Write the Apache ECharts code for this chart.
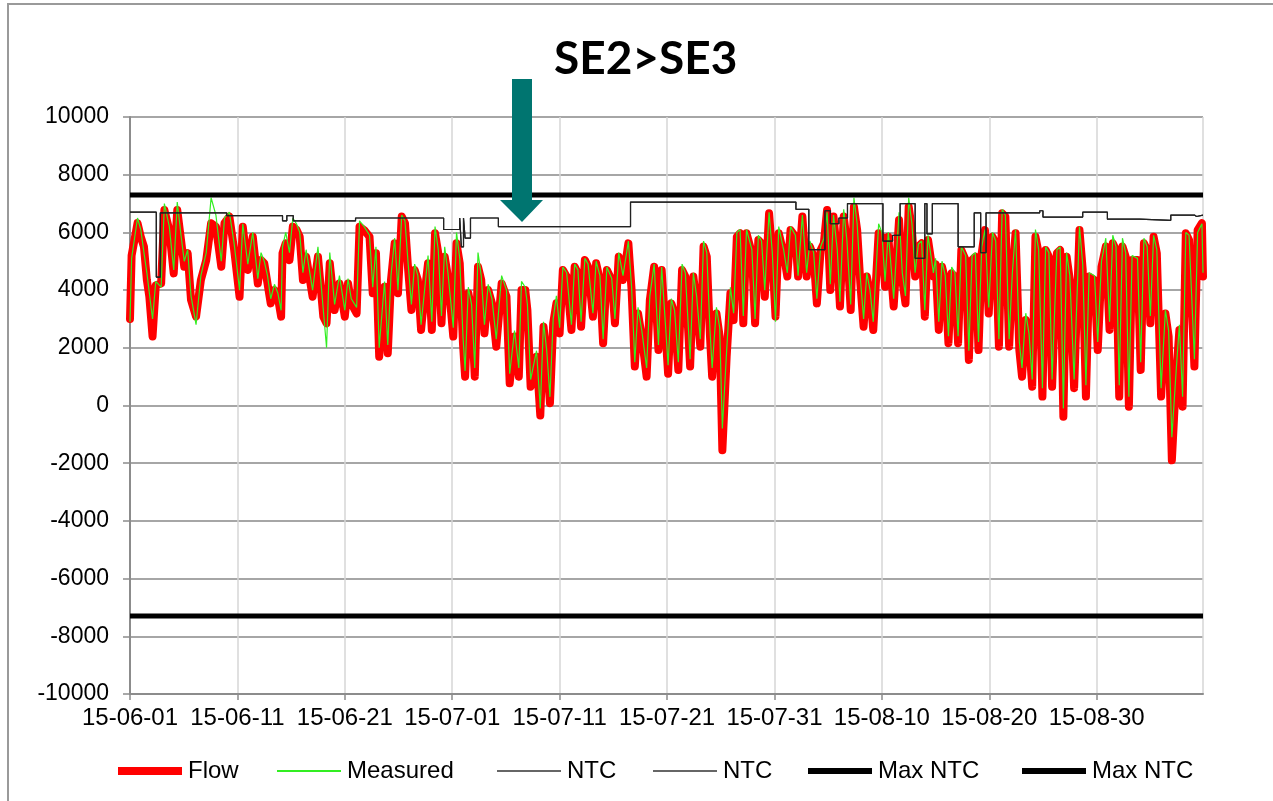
<!DOCTYPE html>
<html>
<head>
<meta charset="utf-8">
<script src="https://cdn.jsdelivr.net/npm/echarts@6/dist/echarts.min.js"></script>
<style>
html,body{margin:0;padding:0;background:#fff;}
#main{width:1273px;height:801px;}
</style>
</head>
<body>
<div id="main"></div>
<script>
// x values are days counted from 2015-06-01
var startDate = Date.UTC(2015, 5, 1);
var xMax = 99.9;

var flowDays = [
  0.0, 0.15, 0.7, 1.0, 1.3, 1.57, 1.8, 2.1, 2.4, 2.9,
  3.2, 3.66, 4.07, 4.4, 4.75, 5.05, 5.37, 5.68, 6.15, 6.6,
  7.1, 7.55, 8.0, 8.5, 8.8, 9.25, 9.7, 10.2, 10.5, 10.97,
  11.43, 11.9, 12.2, 12.5, 12.8, 13.1, 13.45, 13.76, 14.07, 14.2,
  14.5, 14.85, 15.16, 15.5, 15.8, 16.1, 16.4, 17.0, 17.5, 18.0,
  18.3, 18.6, 19.05, 19.5, 20.0, 20.3, 20.6, 21.1, 21.37, 21.8,
  22.3, 22.6, 22.9, 23.2, 23.7, 24.0, 24.3, 24.64, 24.95, 25.3,
  25.6, 25.9, 26.2, 26.5, 26.8, 27.1, 27.4, 27.75, 28.1, 28.4,
  28.7, 29.0, 29.3, 29.6, 30.1, 30.4, 30.7, 31.0, 31.2, 31.5,
  31.8, 32.1, 32.4, 32.7, 33.0, 33.35, 33.7, 34.1, 34.6, 35.05,
  35.35, 35.8, 36.2, 36.45, 36.8, 37.0, 37.3, 37.85, 38.2, 38.5,
  38.8, 39.1, 39.4, 39.7, 40.0, 40.3, 40.65, 41.1, 41.4, 41.7,
  42.0, 42.35, 42.65, 43.1, 43.4, 43.75, 44.05, 44.4, 44.85, 45.15,
  45.5, 45.9, 46.4, 46.7, 47.0, 47.3, 47.65, 48.1, 48.4, 48.8,
  49.2, 49.5, 50.1, 50.4, 50.7, 51.05, 51.4, 51.7, 52.15, 52.45,
  52.75, 53.1, 53.4, 53.7, 54.0, 54.2, 54.6, 54.9, 55.15, 55.55,
  55.9, 56.2, 56.5, 56.8, 57.1, 57.4, 57.9, 58.2, 58.5, 58.8,
  59.1, 59.5, 59.8, 60.1, 60.4, 60.85, 61.2, 61.5, 61.95, 62.2,
  62.6, 63.0, 63.3, 63.65, 63.95, 64.3, 64.6, 64.9, 65.2, 65.5,
  65.85, 66.1, 66.45, 66.75, 67.1, 67.4, 67.7, 68.0, 68.3, 68.6,
  68.9, 69.2, 69.7, 70.0, 70.3, 70.6, 71.1, 71.6, 71.9, 72.2,
  72.5, 72.8, 73.1, 73.4, 73.7, 74.0, 74.3, 74.8, 75.0, 75.3,
  75.6, 75.9, 76.2, 76.5, 76.8, 77.1, 77.4, 77.8, 78.1, 78.4,
  78.7, 79.0, 79.3, 79.6, 79.95, 80.3, 80.6, 80.9, 81.2, 81.5,
  81.85, 82.15, 82.45, 82.8, 83.05, 83.4, 83.7, 84.0, 84.3, 84.6,
  84.95, 85.25, 85.55, 85.85, 86.3, 86.6, 86.9, 87.2, 87.5, 87.9,
  88.4, 88.7, 89.0, 89.3, 89.8, 90.1, 90.45, 90.85, 91.2, 91.5,
  91.8, 92.1, 92.4, 92.7, 93.0, 93.3, 93.8, 94.1, 94.4, 94.7,
  95.0, 95.3, 95.6, 96.0, 96.4, 96.7, 97.0, 97.4, 97.7, 98.0,
  98.3, 98.6, 99.1, 99.4, 99.8, 99.9
];

var flowVals = [
  3000, 5200, 6320, 5850, 5500, 4350, 3770, 2390, 4170, 4230,
  6780, 6080, 4580, 6780, 5740, 4810, 5280, 3660, 3080, 4350,
  5040, 6320, 6200, 4810, 6320, 6550, 5390, 3770, 6200, 4700,
  5850, 4230, 5040, 4930, 4230, 3540, 4000, 3770, 3080, 5280,
  5620, 5040, 6200, 6090, 5850, 4350, 5160, 3770, 5160, 3080,
  2850, 4930, 3310, 4230, 3080, 4230, 3540, 3190, 6200, 6080,
  5850, 3890, 5280, 1690, 4120, 1810, 4350, 5620, 3890, 6550,
  6320, 4700, 3310, 4700, 4350, 2620, 3770, 4930, 2620, 5970,
  5280, 2850, 5160, 4470, 2390, 5620, 4930, 2160, 1000, 3890,
  3310, 1000, 4810, 4350, 2500, 4000, 3540, 2040, 4230, 3770,
  770, 2390, 1000, 4000, 4000, 3300, 650, 1690, -350, 2730,
  1690, 80, 2850, 3540, 2500, 4700, 4470, 2620, 4810, 4580,
  2730, 5040, 4810, 3080, 4930, 4350, 2160, 4700, 4350, 2850,
  5160, 4350, 5620, 4000, 1350, 3190, 2390, 1000, 3660, 4810,
  1920, 4700, 1100, 3540, 3190, 1230, 4700, 4470, 1350, 4470,
  3540, 2040, 5510, 5160, 2390, 1000, 3190, 2390, -1550, 1690,
  3890, 2960, 5850, 5970, 2850, 5970, 5280, 2850, 5740, 5620,
  3770, 6660, 5160, 3080, 5970, 5280, 4470, 6080, 5850, 4470,
  6550, 4470, 5510, 5160, 3540, 5390, 5620, 6780, 4000, 6550,
  5160, 3430, 6550, 5620, 3310, 6890, 6080, 4230, 2730, 4470,
  3890, 2620, 5970, 5850, 4120, 5850, 3430, 6430, 4350, 3540,
  6890, 6080, 4470, 5510, 5620, 3080, 5740, 4470, 4900, 2620,
  4810, 4350, 2160, 4580, 4470, 2160, 5390, 5040, 1580, 5040,
  5160, 1920, 5280, 6080, 3190, 5850, 5620, 2040, 6660, 6550,
  2040, 4470, 5970, 1920, 1000, 2960, 2270, 650, 5850, 5280,
  310, 5390, 5160, 650, 5280, 5390, -390, 5160, 4350, 600,
  6080, 4700, 310, 4470, 4350, 1920, 4810, 5510, 2620, 5620,
  5390, 310, 5510, 5160, -40, 5040, 5040, 1230, 5620, 5390,
  2850, 5850, 5280, 310, 3190, 2390, -1900, 1000, 2620, -40,
  5970, 5740, 1350, 6080, 6320, 4470
];

var measuredVals = [
  2900, 5100, 6500, 6100, 5300, 4600, 3900, 3000, 4300, 4100,
  7000, 6200, 4700, 7050, 5900, 5000, 5400, 3800, 2800, 4500,
  5300, 7200, 6600, 5000, 6500, 6700, 5600, 4000, 6300, 4900,
  6000, 4400, 5300, 5000, 4500, 3700, 4200, 3900, 3300, 5500,
  6000, 5300, 6500, 6300, 6000, 4600, 5400, 4000, 5500, 3300,
  2000, 5300, 3500, 4500, 3300, 4400, 3700, 3400, 6400, 6200,
  5900, 4100, 5500, 2000, 4300, 2100, 4500, 5800, 4000, 6600,
  6400, 4900, 3500, 4900, 4500, 2800, 3900, 5200, 2900, 6200,
  5400, 3100, 5500, 4600, 2700, 6000, 5100, 2400, 1200, 4100,
  3500, 1300, 5300, 4500, 2800, 4200, 3700, 2300, 4500, 4000,
  1100, 2600, 1300, 4300, 4100, 3500, 900, 1900, -100, 2900,
  1900, 300, 3000, 3800, 2700, 4800, 4600, 2800, 4900, 4700,
  2900, 5100, 4900, 3200, 5000, 4500, 2300, 4800, 4400, 3000,
  5300, 4500, 5700, 4100, 1500, 3400, 2600, 1300, 3800, 4900,
  2100, 4800, 1400, 3700, 3300, 1500, 4900, 4600, 1600, 4600,
  3800, 2300, 5700, 5300, 2600, 1300, 3400, 2700, -800, 1900,
  4100, 3200, 6000, 6100, 3100, 6100, 5400, 3000, 5900, 5700,
  4000, 6700, 5300, 2900, 6200, 5400, 4600, 6200, 5900, 4500,
  6600, 4600, 5700, 5300, 3700, 5500, 5800, 6700, 4200, 6600,
  5400, 3600, 6800, 5700, 3500, 7200, 6300, 4400, 3000, 4600,
  4000, 2900, 6300, 6000, 4300, 6000, 3700, 6700, 4600, 3800,
  7200, 6300, 4600, 5600, 5700, 3300, 5900, 4600, 5100, 2900,
  5000, 4500, 2400, 4800, 4600, 2400, 5500, 5200, 1900, 5200,
  5300, 2200, 5500, 6100, 3400, 6000, 5700, 2300, 6800, 6600,
  2300, 4600, 6100, 2200, 1300, 3200, 2500, 900, 6100, 5400,
  600, 5500, 5300, 900, 5400, 5500, -100, 5300, 4500, 900,
  6200, 4900, 700, 4600, 4500, 2200, 5000, 5800, 2900, 5900,
  5500, 700, 5800, 5300, 300, 5200, 5100, 1500, 5800, 5500,
  3100, 5900, 5400, 600, 3300, 2600, -1100, 1200, 2800, 300,
  6000, 5900, 1600, 6000, 6300, 4600
];

var ntcDays = [
  0, 2.45, 2.82, 9.0, 14.2, 14.6, 15.2, 21.0, 29.2, 30.7,
  30.85, 31.05, 31.2, 31.7, 34.3, 46.6, 62.0, 63.2, 64.7, 65.2,
  66.0, 66.8, 70.1, 71.0, 71.7, 73.1, 74.0, 74.2, 74.7, 77.1,
  78.6, 79.2, 79.7, 84.7, 85.0, 88.7, 91.0, 94.0, 96.9, 99.1,
  99.3, 99.9
];
var ntcVals = [
  6700, 4450, 6680, 6580, 6400, 6580, 6400, 6500, 6100, 6500,
  5500, 6500, 5800, 6500, 6200, 7050, 6800, 5400, 6750, 6300,
  6500, 7000, 5700, 5900, 7000, 5100, 7000, 5950, 7000, 5500,
  6680, 5300, 6680, 6750, 6530, 6700, 6460, 6420, 6600, 6550,
  6600, 6600
];

var maxNtcUp = 7300;
var maxNtcDown = -7300;

var yTicks = [-10000, -8000, -6000, -4000, -2000, 0, 2000, 4000, 6000, 8000, 10000];

var legendNames = ['Flow', 'Measured', 'NTC', 'NTC ', 'Max NTC', 'Max NTC '];
var legendColors = ['#ff0000', '#33ee22', '#333333', '#333333', '#000000', '#000000'];

function pairs(xs, ys) {
  return xs.map(function (x, i) { return [x, ys[i]]; });
}
function dayLabel(d) {
  var t = new Date(startDate + d * 86400000);
  var mm = ('0' + (t.getUTCMonth() + 1)).slice(-2);
  var dd = ('0' + t.getUTCDate()).slice(-2);
  return String(t.getUTCFullYear()).slice(2) + '-' + mm + '-' + dd;
}

var labelFont = 'Liberation Sans, Arial, sans-serif';
var myChart = echarts.init(document.getElementById('main'));

// one legend per entry so each swatch can keep its own thickness
var legendLeft = [113, 272, 492, 648, 803, 1017];
var legendThick = [8, 2, 1.5, 1.5, 6, 6];
var legends = legendNames.map(function (n, i) {
  return {
    data: [n],
    left: legendLeft[i],
    top: 754,
    icon: 'rect',
    itemWidth: 64,
    itemHeight: legendThick[i],
    itemGap: 0,
    selectedMode: false,
    itemStyle: {color: legendColors[i]},
    textStyle: {fontFamily: labelFont, fontSize: 24, color: '#000', padding: [0, 0, 0, 1]}
  };
});

var option = {
  animation: false,
  backgroundColor: '#fff',
  title: {
    text: 'SE2>SE3',
    left: 549,
    top: 31,
    textStyle: {fontFamily: 'Lato', fontWeight: 'bold', fontSize: 46, color: '#000'}
  },
  grid: {left: 130, right: 70, top: 117, bottom: 107},
  legend: legends,
  xAxis: {
    type: 'value',
    min: 0,
    max: xMax,
    interval: 10,
    axisLine: {onZero: false, lineStyle: {color: '#8c8c8c', width: 2}},
    axisTick: {show: true, length: 6, lineStyle: {color: '#8c8c8c', width: 1.5}},
    splitLine: {show: true, lineStyle: {color: '#d6d6d6', width: 1.5}},
    axisLabel: {
      showMaxLabel: false,
      margin: 12,
      fontFamily: labelFont,
      fontSize: 24,
      color: '#000',
      formatter: dayLabel
    }
  },
  yAxis: {
    type: 'value',
    min: yTicks[0],
    max: yTicks[yTicks.length - 1],
    interval: 2000,
    axisLine: {show: true, lineStyle: {color: '#8c8c8c', width: 2}},
    axisTick: {show: true, length: 7, lineStyle: {color: '#8c8c8c', width: 1.5}},
    splitLine: {show: true, lineStyle: {color: '#a6a6a6', width: 2}},
    axisLabel: {
      margin: 21, fontFamily: labelFont, fontSize: 23, color: '#000',
      formatter: function (v) { return String(v); }
    }
  },
  series: [
    {
      name: 'Flow', type: 'line', symbol: 'none', z: 2,
      data: pairs(flowDays, flowVals),
      lineStyle: {color: '#ff0000', width: 8, cap: 'round', join: 'round'},
      itemStyle: {color: '#ff0000'}
    },
    {
      name: 'Measured', type: 'line', symbol: 'none', z: 3,
      data: pairs(flowDays, measuredVals),
      lineStyle: {color: '#33ee22', width: 1.2},
      itemStyle: {color: '#33ee22'}
    },
    {
      name: 'NTC', type: 'line', step: 'end', symbol: 'none', z: 4,
      data: pairs(ntcDays, ntcVals),
      lineStyle: {color: '#222', width: 1.2},
      itemStyle: {color: '#222'}
    },
    {
      name: 'NTC ', type: 'line', step: 'end', symbol: 'none', z: 4,
      data: pairs(ntcDays, ntcVals),
      lineStyle: {color: '#222', width: 1.2},
      itemStyle: {color: '#222'}
    },
    {
      name: 'Max NTC', type: 'line', symbol: 'none', z: 5,
      data: [[0, maxNtcUp], [xMax, maxNtcUp]],
      lineStyle: {color: '#000', width: 5},
      itemStyle: {color: '#000'}
    },
    {
      name: 'Max NTC ', type: 'line', symbol: 'none', z: 5,
      data: [[0, maxNtcDown], [xMax, maxNtcDown]],
      lineStyle: {color: '#000', width: 5},
      itemStyle: {color: '#000'}
    }
  ],
  graphic: [
    {
      type: 'rect', silent: true, z: -1,
      shape: {x: 8, y: 4, width: 1300, height: 820},
      style: {fill: 'none', stroke: '#9a9a9a', lineWidth: 2}
    },
    {
      type: 'polygon', silent: true, z: 100,
      shape: {points: [[512, 79], [532, 79], [532, 200], [543, 200], [522, 222], [500, 200], [512, 200]]},
      style: {fill: '#007570'}
    }
  ]
};

myChart.setOption(option);
</script>
</body>
</html>
